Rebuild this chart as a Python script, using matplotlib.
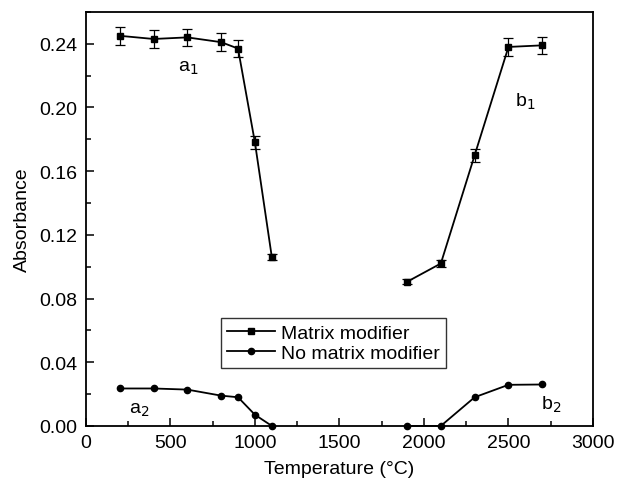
import numpy as np
import matplotlib.pyplot as plt
from matplotlib.ticker import MultipleLocator
from matplotlib.lines import Line2D

plt.rcParams['font.family'] = ['Liberation Sans', 'DejaVu Sans']

# Matrix modifier (a1 / b1)
temp_a = [200, 400, 600, 800, 900, 1000, 1100]
abs_a1 = [0.245, 0.243, 0.244, 0.241, 0.237, 0.178, 0.106]
err_a1 = [0.0055, 0.0055, 0.0055, 0.0055, 0.0055, 0.004, 0.002]
temp_b = [1900, 2100, 2300, 2500, 2700]
abs_b1 = [0.0905, 0.102, 0.170, 0.238, 0.239]
err_b1 = [0.0015, 0.002, 0.004, 0.0055, 0.0055]

# No matrix modifier (a2 / b2)
abs_a2 = [0.0235, 0.0235, 0.0228, 0.019, 0.018, 0.007, 0.0]
abs_b2 = [0.0, 0.0, 0.018, 0.0258, 0.026]

fig = plt.figure(figsize=(6.18, 4.89), dpi=100)
ax = fig.add_axes([0.139, 0.127, 0.8205, 0.8466])

kw = dict(color='black', lw=1.3, ecolor='black', elinewidth=0.9, capsize=3.5, capthick=0.9)
ax.errorbar(temp_a, abs_a1, yerr=err_a1, marker='s', ms=5, **kw)
ax.errorbar(temp_b, abs_b1, yerr=err_b1, marker='s', ms=5, **kw)
ax.plot(temp_a, abs_a2, color='black', lw=1.3, marker='o', ms=4.5, clip_on=False)
ax.plot(temp_b, abs_b2, color='black', lw=1.3, marker='o', ms=4.5, clip_on=False)

ax.set_xlim(0, 3000)
ax.set_ylim(0, 0.26)
ax.xaxis.set_major_locator(MultipleLocator(500))
ax.xaxis.set_minor_locator(MultipleLocator(250))
ax.yaxis.set_major_locator(MultipleLocator(0.04))
ax.yaxis.set_minor_locator(MultipleLocator(0.02))
ax.yaxis.set_major_formatter(plt.FormatStrFormatter('%.2f'))
ax.tick_params(which='both', direction='in', labelsize=14, width=1.1, pad=6)
ax.tick_params(which='major', length=6)
ax.tick_params(which='minor', length=3.5)
for s in ax.spines.values():
    s.set_linewidth(1.3)

ax.set_xlabel('Temperature (°C)', fontsize=14, labelpad=6)
ax.set_ylabel('Absorbance', fontsize=14, labelpad=6)

ax.text(608, 0.2254, 'a$_1$', fontsize=14, ha='center', va='center')
ax.text(2597, 0.204, 'b$_1$', fontsize=14, ha='center', va='center')
ax.text(313, 0.0107, 'a$_2$', fontsize=14, ha='center', va='center')
ax.text(2751, 0.0138, 'b$_2$', fontsize=14, ha='center', va='center')

handles = [Line2D([], [], color='black', lw=1.3, marker='s', ms=5),
           Line2D([], [], color='black', lw=1.3, marker='o', ms=4.5)]
leg = ax.legend(handles, ['Matrix modifier', 'No matrix modifier'],
                loc='center', bbox_to_anchor=(0.488, 0.2), fontsize=14, frameon=True,
                fancybox=False, edgecolor='black', handlelength=2.5, borderpad=0.3,
                labelspacing=0.15, handletextpad=0.3, borderaxespad=0)
leg.get_frame().set_linewidth(1.0)

fig.savefig('out.png', dpi=100)
